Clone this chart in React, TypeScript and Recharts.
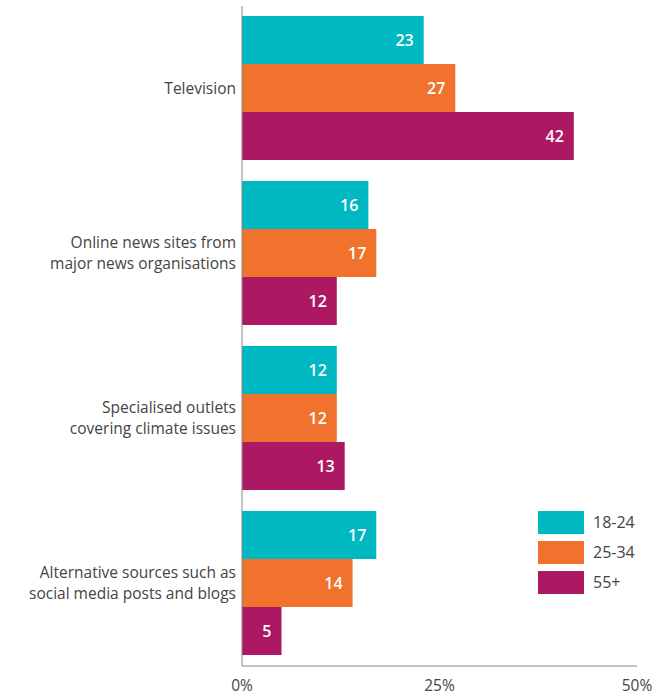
import { Bar, BarChart, LabelList, XAxis, YAxis } from 'recharts';

const categories = [
  'Television',
  'Online news sites from\nmajor news organisations',
  'Specialised outlets\ncovering climate issues',
  'Alternative sources such as\nsocial media posts and blogs',
];
const age18to24 = [23, 16, 12, 17];
const age25to34 = [27, 17, 12, 14];
const age55plus = [42, 12, 13, 5];
const xTicks = [0, 25, 50];

const seriesNames = ['18-24', '25-34', '55+'];
const seriesColors = ['#00B8C2', '#F1722D', '#AD1862'];

const FONT = '"Open Sans", sans-serif';
const TEXT = '#444';

const data = categories.map((name, i) => ({
  name,
  a: age18to24[i],
  b: age25to34[i],
  c: age55plus[i],
}));

function CategoryTick({ x, y, payload }: any) {
  const lines = String(payload.value).split('\n');
  const lh = 21;
  const start = y - ((lines.length - 1) * lh) / 2;
  return (
    <text x={x} y={start} textAnchor="end" fill={TEXT} fontSize={15.5} fontFamily={FONT}>
      {lines.map((l, i) => (
        <tspan key={i} x={x} y={start + i * lh} dy="0.35em">
          {l}
        </tspan>
      ))}
    </text>
  );
}

function AgeLegend() {
  return (
    <div style={{ position: 'absolute', left: 538, top: 507 }}>
      {seriesNames.map((n, i) => (
        <div key={n} style={{ display: 'flex', alignItems: 'center', height: 30 }}>
          <div style={{ width: 46, height: 23, background: seriesColors[i] }} />
          <span style={{ marginLeft: 9, fontSize: 16, color: TEXT, fontFamily: FONT }}>{n}</span>
        </div>
      ))}
    </div>
  );
}

export default function App() {
  const keys = ['a', 'b', 'c'];
  return (
    <div style={{ position: 'absolute', left: 0, top: 0, width: 668, height: 695, background: '#fff' }}>
      <BarChart
        width={668}
        height={695}
        data={data}
        layout="vertical"
        margin={{ top: 6, right: 31, left: 0, bottom: 0 }}
        barCategoryGap={10}
        barGap={0}
      >
        <XAxis
          type="number"
          domain={[0, 50]}
          ticks={xTicks}
          tickFormatter={(v) => `${v}%`}
          height={29}
          tickSize={0}
          tickMargin={14}
          axisLine={{ stroke: '#888' }}
          tick={{ fill: TEXT, fontSize: 15.5, fontFamily: FONT }}
        />
        <YAxis
          type="category"
          dataKey="name"
          width={242}
          tickLine={false}
          tickSize={0}
          tickMargin={6}
          axisLine={{ stroke: '#888' }}
          tick={<CategoryTick />}
        />
        {keys.map((k, i) => (
          <Bar key={k} dataKey={k} name={seriesNames[i]} fill={seriesColors[i]} isAnimationActive={false}>
            <LabelList
              dataKey={k}
              position="insideRight"
              offset={10}
              fill="#fff"
              fontSize={16}
              fontWeight={600}
              fontFamily={FONT}
            />
          </Bar>
        ))}
      </BarChart>
      <AgeLegend />
    </div>
  );
}
